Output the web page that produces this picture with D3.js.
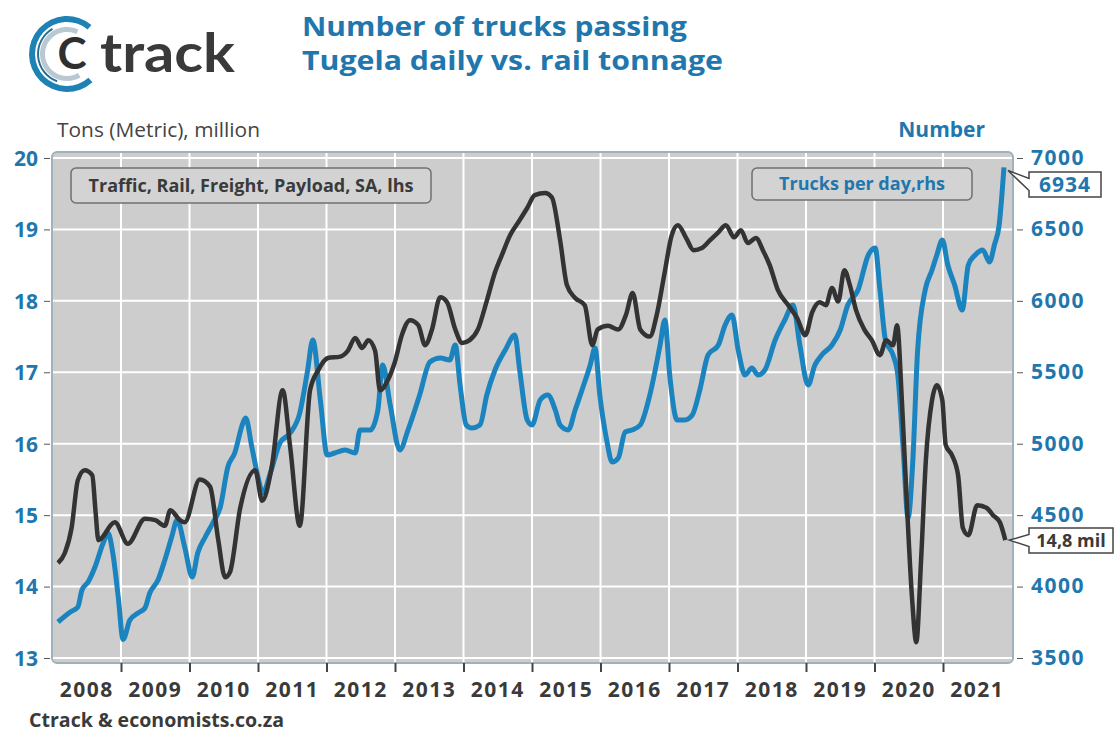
<!DOCTYPE html>
<html>
<head>
<meta charset="utf-8">
<script src="https://cdn.jsdelivr.net/npm/d3@7"></script>
<style>
  body { margin: 0; background: #fff; }
  svg { display: block; font-family: "Open Sans", sans-serif; }
</style>
</head>
<body>
<div id="chart"></div>
<script>
// rail tonnage (lhs, million tons)
const railYears = [2008.08,2008.18,2008.28,2008.37,2008.47,2008.58,2008.63,2008.67,2008.91,2009.10,2009.35,2009.50,2009.64,2009.72,2009.86,2009.93,2010.15,2010.30,2010.42,2010.52,2010.59,2010.74,2010.96,2011.06,2011.20,2011.36,2011.47,2011.61,2011.76,2011.88,2012.02,2012.20,2012.31,2012.42,2012.52,2012.61,2012.71,2012.78,2012.90,2013.00,2013.10,2013.22,2013.34,2013.44,2013.54,2013.66,2013.76,2013.88,2013.98,2014.09,2014.21,2014.34,2014.46,2014.56,2014.68,2014.80,2014.93,2015.04,2015.19,2015.29,2015.41,2015.51,2015.63,2015.77,2015.88,2015.96,2016.11,2016.26,2016.37,2016.47,2016.58,2016.72,2016.82,2016.93,2017.04,2017.13,2017.25,2017.36,2017.48,2017.60,2017.72,2017.83,2017.95,2018.05,2018.15,2018.27,2018.37,2018.47,2018.59,2018.74,2018.87,2018.99,2019.09,2019.20,2019.29,2019.38,2019.47,2019.56,2019.64,2019.73,2019.85,2019.96,2020.08,2020.17,2020.27,2020.33,2020.40,2020.47,2020.55,2020.61,2020.68,2020.75,2020.84,2020.91,2020.99,2021.04,2021.13,2021.22,2021.29,2021.37,2021.50,2021.64,2021.73,2021.83,2021.91]
const railTons = [14.33,14.47,14.83,15.49,15.63,15.56,15.03,14.65,14.90,14.60,14.95,14.93,14.85,15.07,14.93,14.90,15.50,15.40,14.65,14.13,14.20,15.10,15.63,15.20,15.67,16.75,15.95,14.85,16.75,17.03,17.20,17.22,17.30,17.48,17.34,17.45,17.30,16.75,16.90,17.15,17.52,17.73,17.66,17.38,17.60,18.05,17.98,17.60,17.41,17.45,17.60,18.00,18.40,18.64,18.92,19.10,19.30,19.48,19.51,19.45,18.85,18.22,18.04,17.94,17.38,17.60,17.65,17.60,17.80,18.11,17.60,17.50,17.80,18.36,18.92,19.06,18.88,18.71,18.74,18.85,18.96,19.06,18.89,18.99,18.81,18.88,18.71,18.50,18.15,17.94,17.76,17.52,17.84,17.98,17.94,18.18,17.99,18.43,18.22,17.87,17.60,17.45,17.24,17.45,17.38,17.66,16.60,15.21,13.81,13.22,14.37,15.77,16.61,16.82,16.61,15.98,15.84,15.56,14.82,14.72,15.14,15.10,15.00,14.90,14.65]

// trucks per day passing Tugela (rhs)
const truckYears = [2008.08,2008.26,2008.37,2008.43,2008.52,2008.62,2008.74,2008.81,2008.88,2008.96,2009.03,2009.13,2009.25,2009.35,2009.42,2009.54,2009.64,2009.74,2009.82,2009.93,2010.04,2010.12,2010.23,2010.34,2010.45,2010.56,2010.66,2010.78,2010.82,2010.91,2011.00,2011.07,2011.18,2011.32,2011.47,2011.61,2011.72,2011.80,2011.91,2012.01,2012.12,2012.27,2012.42,2012.49,2012.64,2012.75,2012.82,2012.93,2013.07,2013.19,2013.29,2013.36,2013.51,2013.66,2013.80,2013.88,2013.95,2014.04,2014.12,2014.24,2014.34,2014.46,2014.61,2014.75,2014.82,2014.93,2015.00,2015.12,2015.23,2015.34,2015.41,2015.53,2015.63,2015.73,2015.85,2015.92,2015.99,2016.09,2016.17,2016.26,2016.36,2016.46,2016.58,2016.72,2016.87,2016.94,2017.01,2017.12,2017.23,2017.34,2017.45,2017.57,2017.72,2017.82,2017.92,2018.01,2018.11,2018.21,2018.30,2018.40,2018.55,2018.69,2018.81,2018.91,2019.03,2019.13,2019.23,2019.38,2019.50,2019.61,2019.76,2019.91,2020.01,2020.08,2020.16,2020.27,2020.34,2020.42,2020.49,2020.56,2020.63,2020.74,2020.84,2020.91,2020.99,2021.07,2021.17,2021.28,2021.37,2021.47,2021.58,2021.68,2021.75,2021.82,2021.86,2021.89]
const truckCount = [3752,3822,3857,3976,4032,4137,4305,4375,4235,3927,3630,3766,3815,3850,3955,4046,4186,4347,4466,4277,4067,4235,4347,4445,4557,4837,4935,5145,5180,4977,4767,4655,4795,5005,5075,5215,5500,5726,5306,4921,4935,4956,4935,5096,5096,5236,5551,5271,4956,5096,5236,5341,5572,5600,5586,5691,5411,5131,5110,5131,5341,5516,5656,5761,5516,5166,5131,5306,5341,5236,5131,5096,5236,5376,5551,5670,5341,5026,4872,4900,5082,5096,5131,5341,5691,5866,5481,5166,5166,5201,5376,5621,5691,5831,5901,5656,5481,5530,5481,5516,5726,5866,5971,5691,5411,5551,5621,5691,5796,5971,6076,6321,6370,6076,5726,5621,5481,4956,4480,4886,5656,6076,6216,6321,6426,6251,6111,5936,6251,6321,6356,6272,6391,6531,6741,6934]

const yearLabels = [2008,2009,2010,2011,2012,2013,2014,2015,2016,2017,2018,2019,2020,2021]
const leftTicks = [13,14,15,16,17,18,19,20]
const rightTicks = [3500,4000,4500,5000,5500,6000,6500,7000]

const svgWidth = 1115
const svgHeight = 735
const plot = { left: 52, right: 1013, top: 152, bottom: 663 }

const blue = '#1b84bf'
const dark = '#333333'
const textBlue = '#1f77ad'

const svg = d3.select('#chart').append('svg')
  .attr('width', svgWidth)
  .attr('height', svgHeight)

const x = d3.scaleLinear().domain([2008, 2022]).range([52.5, 1011.5])
const yL = d3.scaleLinear().domain([13, 20]).range([658, 158])
const yR = d3.scaleLinear().domain([3500, 7000]).range([658, 158])

// logo
const logo = svg.append('g')
logo.append('path')
  .attr('transform', 'translate(67,54)')
  .attr('d', d3.arc().innerRadius(32).outerRadius(38)
    .startAngle(138 * Math.PI / 180).endAngle(400 * Math.PI / 180)())
  .attr('fill', '#1f82b5')
logo.append('path')
  .attr('transform', 'translate(67,54)')
  .attr('d', d3.arc().innerRadius(28).outerRadius(30)
    .startAngle(200 * Math.PI / 180).endAngle(330 * Math.PI / 180)())
  .attr('fill', '#2a6f93')
logo.append('path')
  .attr('transform', 'translate(67,54)')
  .attr('d', d3.arc().innerRadius(22).outerRadius(27)
    .startAngle(150 * Math.PI / 180).endAngle(385 * Math.PI / 180)())
  .attr('fill', '#b9c9d1')
logo.append('text')
  .attr('x', 72).attr('y', 69)
  .attr('text-anchor', 'middle')
  .attr('font-family', 'Lato, sans-serif')
  .attr('font-weight', 700)
  .attr('font-size', 44)
  .attr('fill', '#2f2f2f')
  .text('C')
logo.append('text')
  .attr('x', 100).attr('y', 72)
  .attr('font-family', 'Lato, sans-serif')
  .attr('font-weight', 700)
  .attr('font-size', 54)
  .attr('fill', '#3a3a3a')
  .attr('textLength', 135).attr('lengthAdjust', 'spacingAndGlyphs')
  .text('track')

// title
svg.append('text')
  .attr('x', 302).attr('y', 36)
  .attr('font-size', 27).attr('font-weight', 700)
  .attr('fill', textBlue)
  .attr('textLength', 385).attr('lengthAdjust', 'spacingAndGlyphs')
  .text('Number of trucks passing')
svg.append('text')
  .attr('x', 302).attr('y', 70)
  .attr('font-size', 27).attr('font-weight', 700)
  .attr('fill', textBlue)
  .attr('textLength', 421).attr('lengthAdjust', 'spacingAndGlyphs')
  .text('Tugela daily vs. rail tonnage')

// axis titles
svg.append('text')
  .attr('x', 57).attr('y', 137)
  .attr('font-size', 20).attr('fill', '#444')
  .attr('textLength', 203).attr('lengthAdjust', 'spacingAndGlyphs')
  .text('Tons (Metric), million')
svg.append('text')
  .attr('x', 985).attr('y', 137)
  .attr('text-anchor', 'end')
  .attr('font-size', 21).attr('font-weight', 700).attr('fill', textBlue)
  .text('Number')

// plot background
svg.append('rect')
  .attr('x', plot.left).attr('y', plot.top)
  .attr('width', plot.right - plot.left).attr('height', plot.bottom - plot.top)
  .attr('rx', 5)
  .attr('fill', '#cdcdcd')
  .attr('stroke', '#9fb2bc').attr('stroke-width', 2)

// grid
const grid = svg.append('g')
grid.selectAll('line.h').data(leftTicks).enter().append('line')
  .attr('class', 'h')
  .attr('x1', plot.left + 1).attr('x2', plot.right - 1)
  .attr('y1', d => yL(d)).attr('y2', d => yL(d))
  .attr('stroke', '#fff').attr('stroke-width', 2)
grid.selectAll('line.v').data(yearLabels.slice(1)).enter().append('line')
  .attr('class', 'v')
  .attr('x1', d => x(d)).attr('x2', d => x(d))
  .attr('y1', plot.top + 1).attr('y2', plot.bottom - 1)
  .attr('stroke', '#fff').attr('stroke-width', 2)

// axes
const leftAxis = svg.append('g')
  .attr('transform', `translate(${plot.left - 2},0)`)
  .call(d3.axisLeft(yL).tickValues(leftTicks).tickFormat(d3.format('d')).tickSize(6).tickPadding(6))
leftAxis.select('.domain').remove()
leftAxis.selectAll('line').attr('stroke', '#555')
leftAxis.selectAll('text')
  .attr('font-family', '"Open Sans", sans-serif')
  .attr('font-size', 21).attr('font-weight', 700).attr('fill', textBlue)
  .attr('dy', '0.35em')

const rightAxis = svg.append('g')
  .attr('transform', `translate(${plot.right + 4},0)`)
  .call(d3.axisRight(yR).tickValues(rightTicks).tickFormat(d3.format('d')).tickSize(6).tickPadding(8))
rightAxis.select('.domain').remove()
rightAxis.selectAll('line').attr('stroke', '#555')
rightAxis.selectAll('text')
  .attr('font-family', '"Open Sans", sans-serif')
  .attr('font-size', 21).attr('font-weight', 700).attr('fill', textBlue)
  .attr('letter-spacing', 1.5)
  .attr('dy', '0.3em')

const bottomAxis = svg.append('g')
  .attr('transform', `translate(0,${plot.bottom})`)
  .call(d3.axisBottom(x).tickValues(yearLabels.slice(1)).tickSize(9).tickFormat(''))
bottomAxis.select('.domain').remove()
bottomAxis.selectAll('line').attr('stroke', '#444').attr('stroke-width', 2)

svg.append('g').selectAll('text').data(yearLabels).enter().append('text')
  .attr('x', d => x(d + 0.5)).attr('y', 697)
  .attr('text-anchor', 'middle')
  .attr('font-size', 21).attr('font-weight', 700).attr('fill', '#3a3a3a')
  .attr('letter-spacing', 1.5)
  .text(d => d)

// lines
const railData = railYears.map((d, i) => ({ year: d, value: railTons[i] }))
const truckData = truckYears.map((d, i) => ({ year: d, value: truckCount[i] }))

svg.append('path').datum(truckData)
  .attr('fill', 'none').attr('stroke', blue).attr('stroke-width', 5)
  .attr('stroke-linejoin', 'round')
  .attr('d', d3.line().x(d => x(d.year)).y(d => yR(d.value)).curve(d3.curveMonotoneX))

svg.append('path').datum(railData)
  .attr('fill', 'none').attr('stroke', dark).attr('stroke-width', 4.5)
  .attr('stroke-linejoin', 'round')
  .attr('d', d3.line().x(d => x(d.year)).y(d => yL(d.value)).curve(d3.curveMonotoneX))

// legend boxes
svg.append('rect')
  .attr('x', 71).attr('y', 168).attr('width', 360).attr('height', 35).attr('rx', 5)
  .attr('fill', '#d3d3d3').attr('stroke', '#707070').attr('stroke-width', 1.5)
svg.append('text')
  .attr('x', 251).attr('y', 192).attr('text-anchor', 'middle')
  .attr('font-size', 18).attr('font-weight', 700).attr('fill', '#3a3a3a')
  .text('Traffic, Rail, Freight, Payload, SA, lhs')

svg.append('rect')
  .attr('x', 752).attr('y', 168).attr('width', 220).attr('height', 32).attr('rx', 5)
  .attr('fill', '#d3d3d3').attr('stroke', '#707070').attr('stroke-width', 1.5)
svg.append('text')
  .attr('x', 862).attr('y', 190).attr('text-anchor', 'middle')
  .attr('font-size', 18).attr('font-weight', 700).attr('fill', textBlue)
  .text('Trucks per day,rhs')

// value callouts
function callout(tipX, tipY, bx, by, bw, bh, label, color, size, spacing) {
  const mid = by + bh / 2
  const p = d3.path()
  p.moveTo(bx, by)
  p.lineTo(bx + bw, by)
  p.lineTo(bx + bw, by + bh)
  p.lineTo(bx, by + bh)
  p.lineTo(bx, mid + 6)
  p.lineTo(tipX, tipY)
  p.lineTo(bx, mid - 6)
  p.closePath()
  svg.append('path').attr('d', p.toString())
    .attr('fill', '#fff').attr('stroke', '#444').attr('stroke-width', 1.5)
  svg.append('text')
    .attr('x', bx + bw / 2).attr('y', mid + size * 0.36)
    .attr('text-anchor', 'middle')
    .attr('font-size', size).attr('font-weight', 700).attr('fill', color)
    .attr('letter-spacing', spacing)
    .text(label)
}

const lastTruck = truckData[truckData.length - 1]
const lastRail = railData[railData.length - 1]
callout(x(lastTruck.year) + 4, yR(lastTruck.value) + 3, 1029, 172, 72, 25, d3.format('d')(lastTruck.value), textBlue, 21, 1)
callout(x(lastRail.year) + 4, yL(lastRail.value), 1029, 528, 84, 25, '14,8 mil', '#3a3a3a', 18, 0)

// source
svg.append('text')
  .attr('x', 29).attr('y', 727)
  .attr('font-size', 20).attr('font-weight', 700).attr('fill', '#3a3a3a')
  .attr('textLength', 255).attr('lengthAdjust', 'spacingAndGlyphs')
  .text('Ctrack & economists.co.za')
</script>
</body>
</html>
